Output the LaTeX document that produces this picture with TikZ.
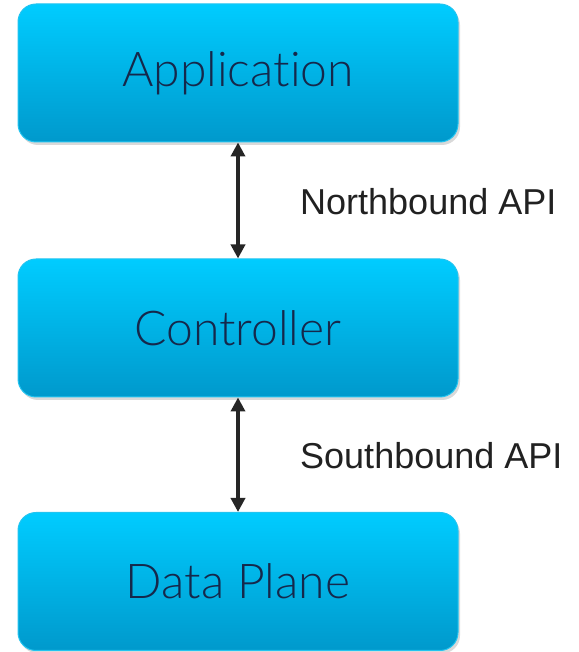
\documentclass[tikz,border=0pt]{standalone}
\usepackage{fontspec}
\setmainfont{Liberation Sans}
\newfontfamily\boxfont[Ligatures=NoCommon]{Lato Light}
\usetikzlibrary{arrows.meta,shadows}
\definecolor{boxtop}{HTML}{00CCFF}
\definecolor{boxbot}{HTML}{0099CC}
\definecolor{boxline}{HTML}{22C4F0}
\definecolor{boxtext}{HTML}{15284B}
\tikzstyle{layer}=[rectangle,rounded corners=18pt,minimum width=440pt,minimum height=138pt,
  top color=boxtop,bottom color=boxbot,draw=boxline,line width=1pt,
  drop shadow={shadow xshift=2pt,shadow yshift=-3pt,opacity=0.3},
  text=boxtext,font=\boxfont\fontsize{48pt}{56pt}\selectfont]
\tikzstyle{api}=[{Triangle[length=14pt,width=14pt]}-{Triangle[length=14pt,width=14pt]},line width=4pt,color=black!85]
\tikzstyle{apilabel}=[anchor=base west,inner sep=0pt,text=black!87,font=\fontsize{36pt}{40pt}\selectfont]

\begin{document}
\begin{tikzpicture}[x=1pt,y=1pt]
\useasboundingbox (0,0) rectangle (578,652);

\node (app) at (238,579) [layer] {Application};
\node (ctrl) at (238,324) [layer] {Controller};
\node (data) at (238,70.5) [layer] {Data Plane};

\draw[api] (app.south) -- (ctrl.north);
\draw[api] (ctrl.south) -- (data.north);

\node (nb) at (300,437) [apilabel] {Northbound API};
\node (sb) at (300,183) [apilabel] {Southbound API};

\end{tikzpicture}
\end{document}
